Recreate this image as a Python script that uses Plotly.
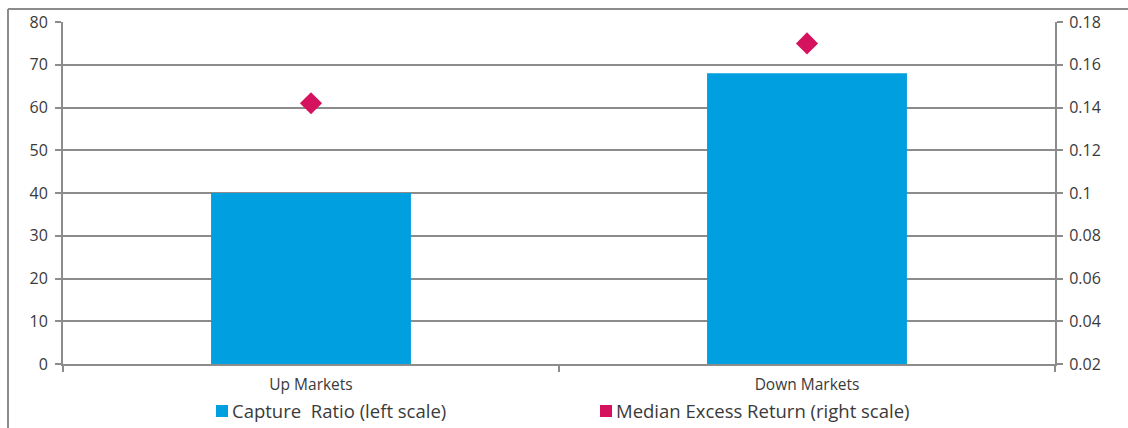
import plotly.graph_objects as go

# Chart data
categories = ["Up Markets", "Down Markets"]
capture_ratio = [40, 68]               # left scale
median_excess_return = [0.142, 0.170]  # right scale
series_names = ["Capture\u00a0 Ratio (left scale)", "Median Excess Return (right scale)"]

left_ticks = [0, 10, 20, 30, 40, 50, 60, 70, 80]
right_ticks = [0.02, 0.04, 0.06, 0.08, 0.10, 0.12, 0.14, 0.16, 0.18]
right_tick_text = ["0.02", "0.04", "0.06", "0.08", "0.1", "0.12", "0.14", "0.16", "0.18"]

BLUE = "#009FDF"
PINK = "#D5125E"
GRID = "#8C8C8C"
TEXT = "#3A3A3A"
FONT = "Open Sans"

# plot area size in pixels (used to place legend keys in paper units)
W, H = 1128, 428
ML, MR, MT, MB = 63, 73, 22, 64
PW, PH = W - ML - MR, H - MT - MB


def px_x(px):
    return (px - ML) / PW


def px_y(py):
    return (H - MB - py) / PH


fig = go.Figure()

fig.add_trace(go.Bar(
    x=categories, y=capture_ratio,
    name=series_names[0],
    marker=dict(color=BLUE, line=dict(width=0)),
    yaxis="y",
))

fig.add_trace(go.Scatter(
    x=categories, y=median_excess_return,
    mode="markers",
    name=series_names[1],
    marker=dict(symbol="diamond", size=17, color=PINK, line=dict(width=0)),
    yaxis="y2",
))

fig.update_layout(
    width=W, height=H,
    margin=dict(l=ML, r=MR, t=MT, b=MB, autoexpand=False),
    paper_bgcolor="white",
    plot_bgcolor="white",
    font=dict(family=FONT, color=TEXT, size=16),
    bargap=0.597,
    showlegend=False,
    xaxis=dict(
        showgrid=False,
        showline=True, linecolor=GRID, linewidth=2,
        ticks="outside", tickson="boundaries", ticklen=6, tickcolor=GRID, tickwidth=1.5,
        tickfont=dict(size=15.5, color=TEXT),
        ticklabelstandoff=5,
        zeroline=False,
    ),
    yaxis=dict(
        range=[0, 80],
        tickvals=left_ticks,
        showgrid=True, gridcolor=GRID, gridwidth=1.5,
        showline=True, linecolor=GRID, linewidth=2,
        ticks="outside", ticklen=6, tickcolor=GRID, tickwidth=1.5,
        tickfont=dict(size=16, color=TEXT),
        ticklabelstandoff=4,
        zeroline=False,
    ),
    yaxis2=dict(
        range=[0.02, 0.18],
        overlaying="y", side="right",
        tickvals=right_ticks, ticktext=right_tick_text,
        showgrid=False,
        showline=True, linecolor=GRID, linewidth=2,
        ticks="outside", ticklen=6, tickcolor=GRID, tickwidth=1.5,
        tickfont=dict(size=16, color=TEXT),
        ticklabelstandoff=3,
        zeroline=False,
    ),
)

# legend: colour key squares with labels below the axis
legend_keys = [(216, BLUE, series_names[0]), (600, PINK, series_names[1])]
for key_x, color, label in legend_keys:
    fig.add_shape(type="rect", xref="paper", yref="paper",
                  x0=px_x(key_x), x1=px_x(key_x + 12),
                  y0=px_y(417), y1=px_y(405),
                  fillcolor=color, line=dict(width=0))
    fig.add_annotation(xref="paper", yref="paper",
                       x=px_x(key_x + 14), y=px_y(411),
                       xanchor="left", yanchor="middle",
                       text=label, showarrow=False,
                       font=dict(size=18.5, color=TEXT, family=FONT))

# outer frame lines along the top and left edges of the chart
fig.add_shape(type="line", xref="paper", yref="paper",
              x0=px_x(8), x1=px_x(1130), y0=px_y(9), y1=px_y(9),
              line=dict(color=GRID, width=2), layer="below")
fig.add_shape(type="line", xref="paper", yref="paper",
              x0=px_x(8), x1=px_x(8), y0=px_y(9), y1=px_y(430),
              line=dict(color=GRID, width=2), layer="below")

fig.write_html("out.html")
